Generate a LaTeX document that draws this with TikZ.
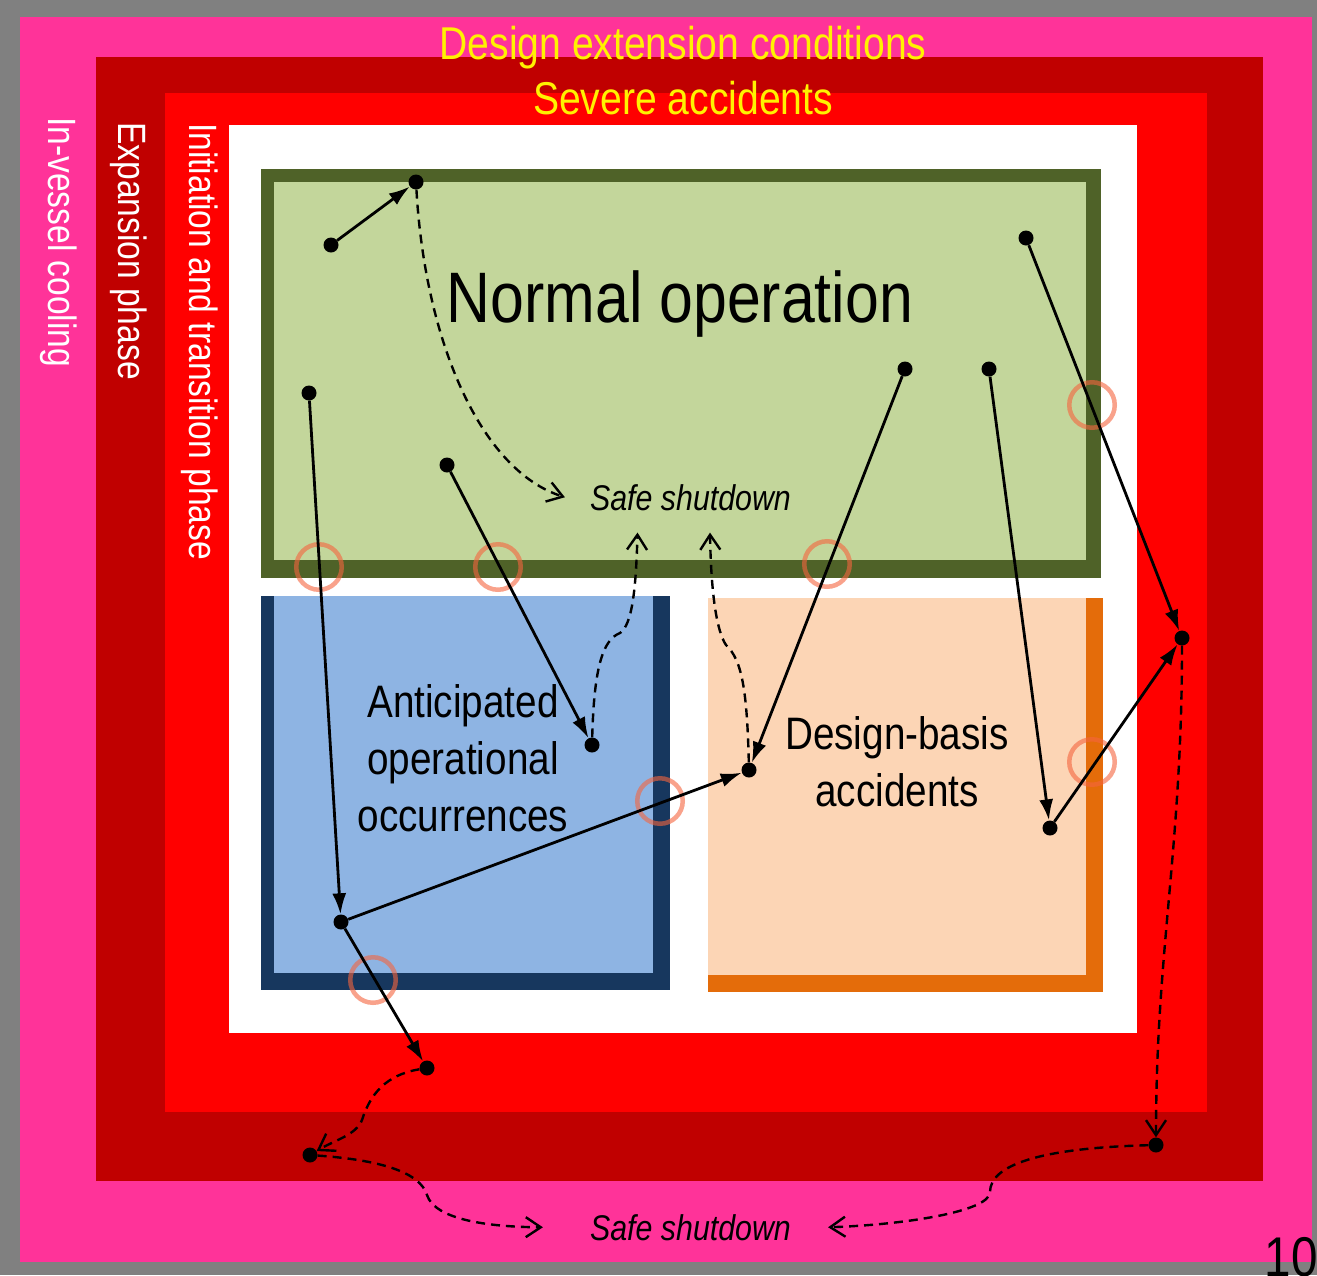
\documentclass[tikz,border=0pt]{standalone}
\usepackage{fontspec}
\setmainfont[FakeStretch=0.85]{Liberation Sans}
\usetikzlibrary{arrows.meta}

\definecolor{frame}{RGB}{128,128,128}
\definecolor{dec}{RGB}{255,51,153}
\definecolor{expred}{RGB}{192,0,0}
\definecolor{initred}{RGB}{255,0,0}
\definecolor{nofill}{RGB}{195,214,155}
\definecolor{noline}{RGB}{79,98,40}
\definecolor{aoofill}{RGB}{142,180,227}
\definecolor{aooline}{RGB}{23,55,94}
\definecolor{dbafill}{RGB}{252,213,181}
\definecolor{dbaline}{RGB}{228,108,10}
\definecolor{ring}{RGB}{245,100,62}

\newcommand\layerfont{\fontsize{46}{55}\selectfont}
\newcommand\phasefont{\fontsize{39.5}{47}\selectfont}
\newcommand\bigfont{\fontsize{71.5}{86}\selectfont}
\newcommand\regionfont{\fontsize{45.5}{57}\selectfont}
\newcommand\notefont{\fontsize{35.7}{43}\selectfont}
\newcommand\pagefont{\fontsize{56}{67}\selectfont}

\begin{document}
\begin{tikzpicture}[x=1pt,y=-1pt,
  dot/.style={circle,fill=black,inner sep=0pt,minimum size=15pt},
  barrier/.style={circle,draw=ring,draw opacity=0.6,line width=4.5pt,minimum size=45.5pt,inner sep=0pt},
  flow/.style={line width=2.8pt,-{Latex[length=21pt,width=14pt]}},
  bypass/.style={line width=2.4pt,dash pattern=on 9pt off 6pt,-{Straight Barb[length=15pt,width=20pt]}},
  phase/.style={text=white,font=\phasefont,rotate=-90,anchor=base west,inner sep=0pt},
  goal/.style={font=\notefont\itshape,inner sep=0pt,anchor=base},
]
\useasboundingbox (0,0) rectangle (1317,1275);
% layers
\fill[frame] (0,0) rectangle (1317,1275);
\fill[dec] (20,17) rectangle (1312,1262);
\fill[expred] (96,57) rectangle (1263,1181);
\fill[initred] (165,93) rectangle (1207,1112);
\fill[white] (229,125) rectangle (1137,1033);
% plant states
\fill[noline] (261,169) rectangle (1101,578);
\fill[nofill] (274,182) rectangle (1086,560);
\fill[aooline] (261,596) rectangle (670,990);
\fill[aoofill] (274,596) rectangle (653,973);
\fill[dbaline] (708,598) rectangle (1103,992);
\fill[dbafill] (708,598) rectangle (1086,975);

\node[text=yellow,font=\layerfont,anchor=base] (dec) at (683,59) {Design extension conditions};
\node[text=yellow,font=\layerfont,anchor=base] (sa) at (683,114) {Severe accidents};
\node[phase] (ivc) at (48,117) {In-vessel cooling};
\node[phase] (exp) at (118,122) {Expansion phase};
\node[phase] (init) at (189,123) {Initiation and transition phase};
\node[font=\bigfont,anchor=base] (no) at (680,322) {Normal operation};
\node[font=\regionfont,align=center,anchor=base] (aoo) at (463,831) {Anticipated\\operational\\occurrences};
\node[font=\regionfont,align=center,anchor=base] (dba) at (897,806) {Design-basis\\accidents};
\node[goal] (ss1) at (690.5,510) {Safe shutdown};
\node[goal] (ss2) at (690.5,1240) {Safe shutdown};
\node[font=\pagefont,anchor=base east,inner sep=0pt] (pg) at (1318,1276) {10};

% barriers crossed
\node[barrier] (x1) at (319,567) {};
\node[barrier] (x2) at (498,567) {};
\node[barrier] (x3) at (827,564) {};
\node[barrier] (x4) at (1092,405) {};
\node[barrier] (x5) at (1092,762) {};
\node[barrier] (x6) at (660,801) {};
\node[barrier] (x7) at (373,980) {};

% states
\node[dot] (no1) at (331,245) {};
\node[dot] (no2) at (416,182) {};
\node[dot] (no3) at (309,393) {};
\node[dot] (no4) at (447,465) {};
\node[dot] (no5) at (905,369) {};
\node[dot] (no6) at (989,369) {};
\node[dot] (no7) at (1026,238) {};
\node[dot] (aoo1) at (592,745) {};
\node[dot] (aoo2) at (341,922) {};
\node[dot] (dba1) at (749,770) {};
\node[dot] (dba2) at (1050,828) {};
\node[dot] (init1) at (427,1068) {};
\node[dot] (init2) at (1182,638) {};
\node[dot] (exp1) at (310,1155) {};
\node[dot] (exp2) at (1156,1145) {};

\draw[flow] (no1) -- (no2);
\draw[flow] (no3) -- (aoo2);
\draw[flow] (no4) -- (aoo1);
\draw[flow] (no5) -- (dba1);
\draw[flow] (no6) -- (dba2);
\draw[flow] (no7) -- (init2);
\draw[flow] (aoo2) -- (dba1);
\draw[flow] (aoo2) -- (init1);
\draw[flow] (dba2) -- (init2);

\draw[bypass] (no2) .. controls (425,340) and (480,470) .. ([xshift=-25pt]ss1.west);
\draw[bypass] (aoo1) .. controls (594,670) and (602,640) .. (620,633)
  .. controls (632,625) and (636,590) .. ([shift={(-53,22)}]ss1.south);
\draw[bypass] (dba1) .. controls (747,690) and (742,660) .. (726,645)
  .. controls (716,630) and (711,590) .. ([shift={(19.5,22)}]ss1.south);
\draw[bypass] (init2) .. controls (1182,850) and (1156,950) .. (exp2);
\draw[bypass] (init1) .. controls (385,1075) and (370,1095) .. (362,1120)
  .. controls (356,1135) and (335,1140) .. (exp1);
\draw[bypass] (exp1) .. controls (380,1160) and (420,1172) .. (427,1195)
  .. controls (435,1220) and (490,1227) .. ([xshift=-47pt]ss2.west);
\draw[bypass] (exp2) .. controls (1040,1148) and (990,1165) .. (990,1192)
  .. controls (990,1212) and (900,1225) .. ([xshift=37pt]ss2.east);
\end{tikzpicture}
\end{document}
